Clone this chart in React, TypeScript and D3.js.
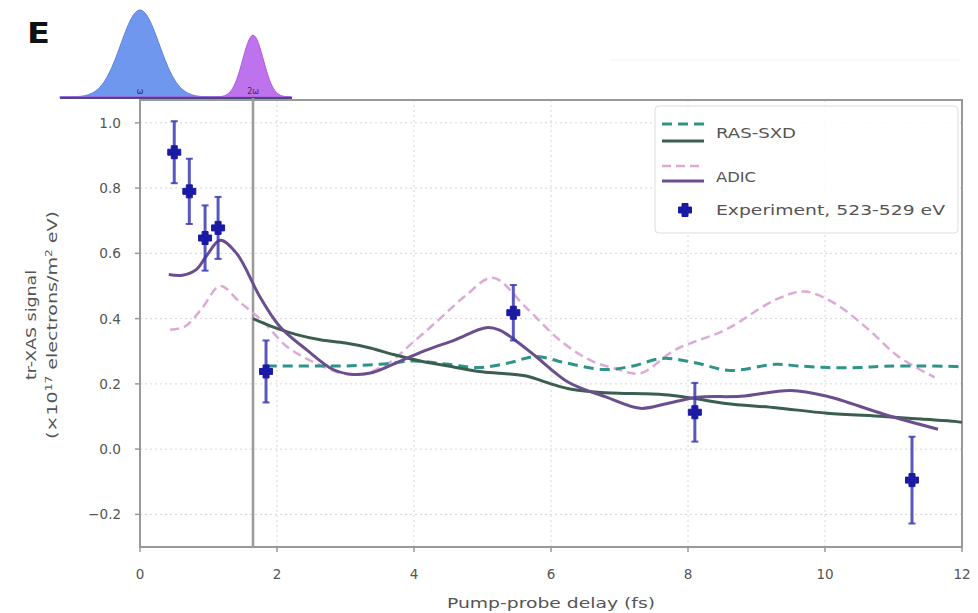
import React from "react";
import * as d3 from "d3";

// ---- Data ----
const xTicks = [0, 2, 4, 6, 8, 10, 12];
const yTicks = [-0.2, 0.0, 0.2, 0.4, 0.6, 0.8, 1.0];

const rasDashedX = [1.85, 2.5, 3.0, 3.5, 4.0, 4.5, 4.95, 5.4, 5.78, 6.2, 6.77, 7.2, 7.62, 8.1, 8.61, 9.28, 9.6, 10.03, 10.5, 10.86, 11.4, 11.9, 12];
const rasDashedY = [0.255, 0.255, 0.255, 0.26, 0.27, 0.26, 0.25, 0.265, 0.284, 0.265, 0.244, 0.255, 0.278, 0.265, 0.241, 0.26, 0.255, 0.25, 0.25, 0.254, 0.255, 0.253, 0.252];

const rasSolidX = [1.65, 2.0, 2.3, 2.63, 3.0, 3.36, 3.7, 4.09, 4.5, 4.95, 5.3, 5.64, 6.0, 6.26, 6.6, 6.99, 7.35, 7.72, 8.1, 8.55, 9.28, 10.03, 10.86, 11.4, 11.9, 12];
const rasSolidY = [0.40, 0.37, 0.35, 0.335, 0.325, 0.31, 0.29, 0.27, 0.255, 0.238, 0.232, 0.224, 0.2, 0.185, 0.176, 0.171, 0.17, 0.166, 0.155, 0.14, 0.127, 0.11, 0.10, 0.092, 0.085, 0.082];

const adicDashedX = [0.44, 0.65, 0.9, 1.17, 1.46, 1.8, 2.14, 2.5, 2.9, 3.2, 3.6, 4.0, 4.38, 4.75, 5.15, 5.64, 6.15, 6.6, 6.99, 7.3, 7.82, 8.55, 9.28, 9.7, 10.13, 10.6, 11.07, 11.6];
const adicDashedY = [0.366, 0.375, 0.43, 0.50, 0.45, 0.39, 0.315, 0.27, 0.235, 0.228, 0.26, 0.33, 0.40, 0.47, 0.525, 0.433, 0.33, 0.27, 0.244, 0.232, 0.305, 0.366, 0.458, 0.483, 0.448, 0.373, 0.284, 0.22];

const adicSolidX = [0.42, 0.62, 0.82, 0.98, 1.17, 1.41, 1.75, 2.04, 2.43, 2.82, 3.11, 3.4, 3.8, 4.2, 4.6, 5.05, 5.25, 5.5, 5.78, 6.26, 6.8, 7.3, 7.7, 8.14, 8.77, 9.5, 10.03, 10.86, 11.65];
const adicSolidY = [0.535, 0.533, 0.55, 0.595, 0.64, 0.60, 0.467, 0.376, 0.305, 0.244, 0.229, 0.235, 0.27, 0.305, 0.335, 0.372, 0.365, 0.33, 0.284, 0.204, 0.16, 0.125, 0.14, 0.159, 0.162, 0.18, 0.162, 0.107, 0.061];

const expX = [0.5, 0.72, 0.95, 1.14, 1.84, 5.45, 8.1, 11.27];
const expY = [0.91, 0.79, 0.647, 0.678, 0.238, 0.418, 0.113, -0.095];
const expErr = [0.095, 0.1, 0.1, 0.095, 0.095, 0.085, 0.09, 0.133];

const pulseCenters = [0, 1.65];
const pulseWidths = [0.28, 0.15];
const pulseHeights = [1, 0.71];
const pulseLabels = ["ω", "2ω"];
const pulseFill = ["#7097ee", "#bf72ee"];
const pulseEdge = ["#5a7fe0", "#a95ce0"];

const legendLabels = ["RAS-SXD", "ADIC", "Experiment, 523-529 eV"];

const probeDelay = 1.65;

// ---- Layout ----
const W = 978, H = 613;
const L = 140, R = 962, T = 100, B = 547;

const tickLen = (s: string) =>
  s.split("").reduce((a, c) => a + (c === "." ? 4.5 : c === "\u2212" ? 11 : 8.6), 0);

export default function App() {
  const x = d3.scaleLinear().domain([0, 12]).range([L, R]);
  const y = d3.scaleLinear().domain([-0.3, 1.07]).range([B, T]);
  const pulseY = d3.scaleLinear().domain([0, 1]).range([97, 10]);

  const mk = (xs: number[], ys: number[]) =>
    d3.line<number>().x((_, i) => x(xs[i])).y((_, i) => y(ys[i])).curve(d3.curveCatmullRom.alpha(0.5))(xs as any) || "";

  const pulsePath = (k: number) => {
    const xs = d3.range(-1.17, 2.22, 0.02);
    const area = d3.area<number>()
      .x((d) => x(d))
      .y0(pulseY(0))
      .y1((d) => pulseY(pulseHeights[k] * Math.exp(-0.5 * ((d - pulseCenters[k]) / pulseWidths[k]) ** 2)));
    return area(xs) || "";
  };

  const plus = (cx: number, cy: number, a = 6.5, t = 3) =>
    `M${cx - t},${cy - a}H${cx + t}V${cy - t}H${cx + a}V${cy + t}H${cx + t}V${cy + a}H${cx - t}V${cy + t}H${cx - a}V${cy - t}H${cx - t}Z`;

  const font = "DejaVu Sans, sans-serif";
  const grey = "#999";
  const textCol = "#555";
  const fmt = (t: number) => (t < 0 ? "\u2212" + Math.abs(t).toFixed(1) : t.toFixed(1));

  return (
    <svg width={W} height={H} style={{ position: "absolute", left: 0, top: 0, background: "#fff" }} fontFamily={font}>
      {/* faint box top-right */}
      <line x1={610} x2={960} y1={60} y2={60} stroke="#f2f2f2" strokeWidth={1} />
      <text x={27} y={43} fontSize={28} fontWeight="bold" fill="#111" textLength={23} lengthAdjust="spacingAndGlyphs">E</text>

      {/* pulses */}
      {pulseCenters.map((c, k) => (
        <g key={k}>
          <path d={pulsePath(k)} fill={pulseFill[k]} stroke={pulseEdge[k]} strokeWidth={1} />
          <text x={x(c)} y={94} fontSize={8} textAnchor="middle" fill="#334">{pulseLabels[k]}</text>
        </g>
      ))}
      <line x1={60} x2={292} y1={98} y2={98} stroke="#4a4a7a" strokeWidth={2} />

      {/* grid */}
      {xTicks.slice(1, -1).map((t) => (
        <line key={"gx" + t} x1={x(t)} x2={x(t)} y1={T} y2={B} stroke="#d6d6d6" strokeWidth={1} strokeDasharray="2,3" />
      ))}
      {yTicks.map((t) => (
        <line key={"gy" + t} x1={L} x2={R} y1={y(t)} y2={y(t)} stroke="#d6d6d6" strokeWidth={1} strokeDasharray="2,3" />
      ))}

      {/* frame */}
      <rect x={L} y={T} width={R - L} height={B - T} fill="none" stroke={grey} strokeWidth={2} />

      {/* ticks */}
      {xTicks.map((t) => (
        <g key={"tx" + t}>
          <line x1={x(t)} x2={x(t)} y1={B} y2={B + 5} stroke={grey} strokeWidth={1.5} />
          <text x={x(t)} y={B + 32} fontSize={14} textAnchor="middle" fill={textCol}
            textLength={tickLen(String(t))} lengthAdjust="spacingAndGlyphs">{t}</text>
        </g>
      ))}
      {yTicks.map((t) => (
        <g key={"ty" + t}>
          <line x1={L - 5} x2={L} y1={y(t)} y2={y(t)} stroke={grey} strokeWidth={1.5} />
          <text x={L - 19} y={y(t) + 5} fontSize={14} textAnchor="end" fill={textCol}
            textLength={tickLen(fmt(t))} lengthAdjust="spacingAndGlyphs">{fmt(t)}</text>
        </g>
      ))}

      {/* axis labels */}
      <text x={551} y={608} fontSize={14} textAnchor="middle" fill={textCol} textLength={208} lengthAdjust="spacingAndGlyphs">Pump-probe delay (fs)</text>
      <g transform="translate(36,325) rotate(-90)">
        <text x={0} y={0} fontSize={14} textAnchor="middle" fill={textCol} textLength={110} lengthAdjust="spacingAndGlyphs">tr-XAS signal</text>
        <text x={0} y={21} fontSize={14} textAnchor="middle" fill={textCol} textLength={228} lengthAdjust="spacingAndGlyphs">
          (×10<tspan dy={-5} fontSize={9}>17</tspan><tspan dy={5}> electrons/m</tspan><tspan dy={-5} fontSize={9}>2</tspan><tspan dy={5}> eV)</tspan>
        </text>
      </g>

      {/* probe delay line */}
      <line x1={x(probeDelay)} x2={x(probeDelay)} y1={T - 2} y2={B} stroke="#9a9a9a" strokeWidth={2.5} />

      {/* curves */}
      <path d={mk(adicDashedX, adicDashedY)} fill="none" stroke="#dcaad8" strokeWidth={2.5} strokeDasharray="9,5" />
      <path d={mk(rasDashedX, rasDashedY)} fill="none" stroke="#2e9488" strokeWidth={3} strokeDasharray="10,6" />
      <path d={mk(rasSolidX, rasSolidY)} fill="none" stroke="#3a5e4f" strokeWidth={3} />
      <path d={mk(adicSolidX, adicSolidY)} fill="none" stroke="#6a4e8e" strokeWidth={3} />

      {/* experiment */}
      {expX.map((v, i) => (
        <g key={"e" + i}>
          <line x1={x(v)} x2={x(v)} y1={y(expY[i] - expErr[i])} y2={y(expY[i] + expErr[i])} stroke="#3b3bb5" strokeOpacity={0.85} strokeWidth={3} />
          <line x1={x(v) - 3.5} x2={x(v) + 3.5} y1={y(expY[i] - expErr[i])} y2={y(expY[i] - expErr[i])} stroke="#3b3bb5" strokeOpacity={0.85} strokeWidth={2} />
          <line x1={x(v) - 3.5} x2={x(v) + 3.5} y1={y(expY[i] + expErr[i])} y2={y(expY[i] + expErr[i])} stroke="#3b3bb5" strokeOpacity={0.85} strokeWidth={2} />
          <path d={plus(x(v), y(expY[i]))} fill="#1a1aa5" stroke="#1a1aa5" strokeWidth={1} strokeLinejoin="round" />
        </g>
      ))}

      {/* legend */}
      <rect x={655} y={106} width={303} height={127} rx={4} fill="#fff" fillOpacity={0.85} stroke="#ddd" strokeWidth={1} />
      <line x1={662} x2={704} y1={124} y2={124} stroke="#2e9488" strokeWidth={3} strokeDasharray="10,6" />
      <line x1={662} x2={704} y1={141} y2={141} stroke="#3a5e4f" strokeWidth={3} />
      <text x={716} y={138} fontSize={14} fill={textCol} textLength={80} lengthAdjust="spacingAndGlyphs">{legendLabels[0]}</text>
      <line x1={662} x2={704} y1={166} y2={166} stroke="#dcaad8" strokeWidth={2.5} strokeDasharray="9,5" />
      <line x1={662} x2={704} y1={181} y2={181} stroke="#6a4e8e" strokeWidth={3} />
      <text x={716} y={182} fontSize={14} fill={textCol} textLength={40} lengthAdjust="spacingAndGlyphs">{legendLabels[1]}</text>
      <path d={plus(685, 210)} fill="#1a1aa5" stroke="#1a1aa5" strokeWidth={1} />
      <text x={716} y={215} fontSize={14} fill={textCol} textLength={229} lengthAdjust="spacingAndGlyphs">{legendLabels[2]}</text>
    </svg>
  );
}
